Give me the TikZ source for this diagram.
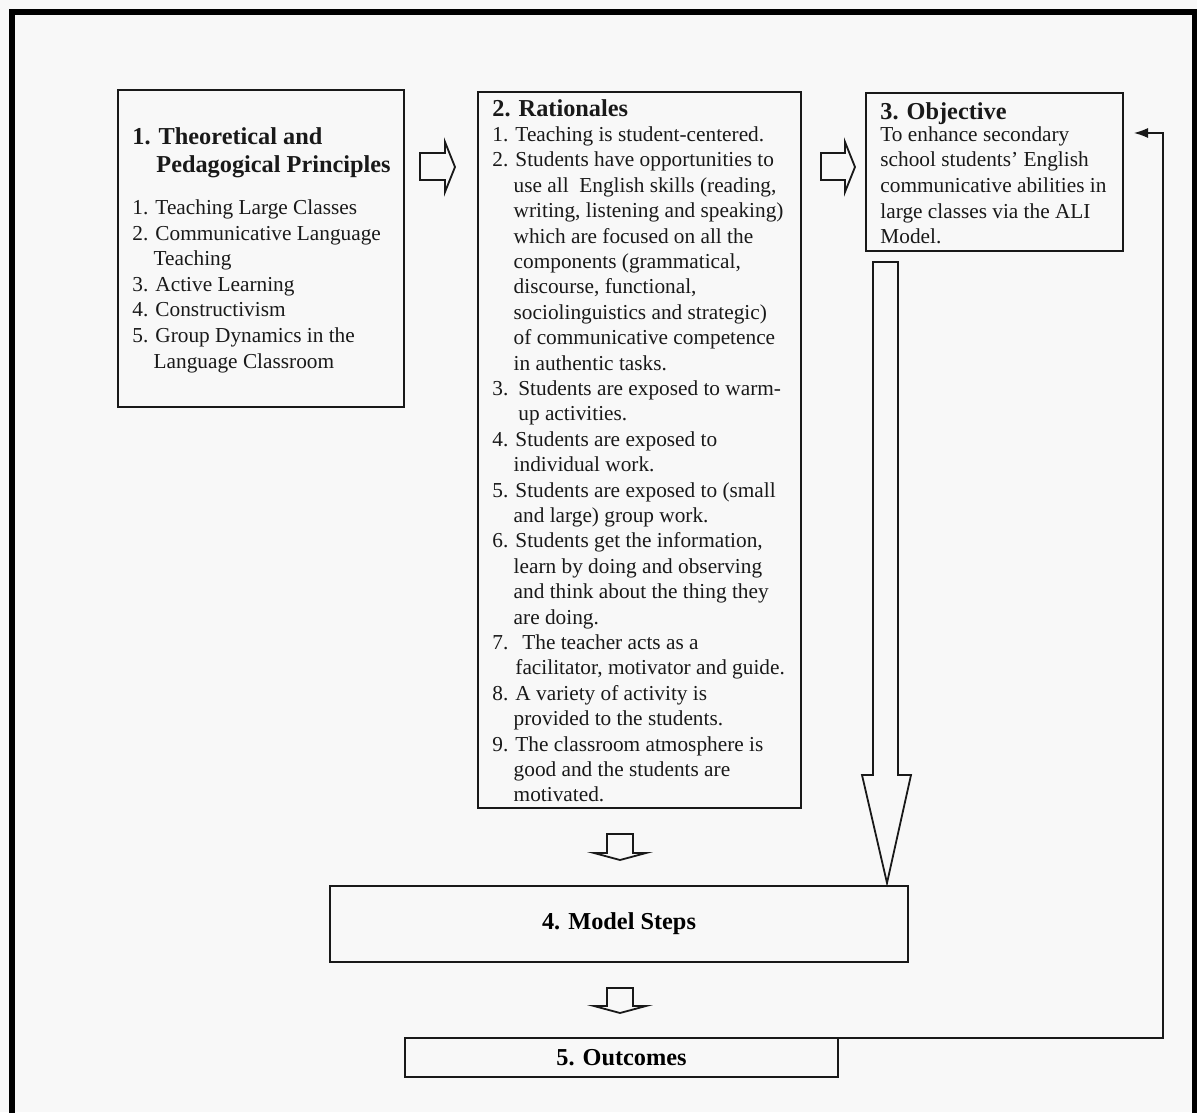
\documentclass[tikz,border=0pt]{standalone}
\usepackage{fontspec}
\setmainfont{Liberation Serif}
\usetikzlibrary{arrows.meta}
\definecolor{paper}{RGB}{248,248,248}
\definecolor{ink}{RGB}{25,25,25}
\newcommand\headfont{\fontsize{12.15pt}{14pt}\selectfont\bfseries}
\begin{document}
\begin{tikzpicture}[x=0.5pt,y=-0.5pt,
  box/.style={draw=ink, line width=0.75pt, inner sep=0pt, outer sep=0pt, anchor=north west},
  head/.style={anchor=base west, inner sep=0pt, font=\headfont, text=ink},
  lines/.style={anchor=north west, inner sep=0pt, align=left, text=ink},
  blockarrow/.style={draw=ink, line width=0.9pt, line join=miter},
  fb/.style={draw=ink, line width=0.55pt, -{Latex[length=7pt,width=5pt]}},
  frame/.style={draw=black, line width=2.6pt}]
\fill[paper] (0,0) rectangle (1197,1112);
\useasboundingbox (0,0) rectangle (1197,1112);
\draw[frame] (12,1125) -- (12,12) -- (1195,12) -- (1195,1125);

% boxes
\node[box, minimum width=143pt, minimum height=158.5pt] (b1) at (118,90) {};
\node[box, minimum width=161.5pt, minimum height=358pt] (b2) at (478,92) {};
\node[box, minimum width=128.5pt, minimum height=79pt] (b3) at (866,93) {};
\node[box, minimum width=289pt, minimum height=38pt, font=\headfont] (model) at (330,886) {4. Model Steps};
\node[box, minimum width=216.5pt, minimum height=19.5pt, font=\headfont] (out) at (405,1038) {5. Outcomes};

% box 1 text
\node[head] (t1a) at (132,145) {1. Theoretical and};
\node[head] (t1b) at (156,173) {Pedagogical Principles};
\node[lines, font=\fontsize{10.65pt}{12.8pt}\selectfont, yshift=8.96pt] (l1) at (132,214) {\strut 1. Teaching Large Classes\\
2. Communicative Language\\
\hspace*{1em}Teaching\\
3. Active Learning\\
4. Constructivism\\
5. Group Dynamics in the\\
\hspace*{1em}Language Classroom};

% box 2 text
\node[head] (t2) at (492,117) {2. Rationales};
\node[lines, font=\fontsize{10.65pt}{12.7pt}\selectfont, yshift=8.89pt] (l2) at (492,141) {\strut 1. Teaching is student-centered.\\
2. Students have opportunities to\\
\hspace*{1em}use all\ \ English skills (reading,\\
\hspace*{1em}writing, listening and speaking)\\
\hspace*{1em}which are focused on all the\\
\hspace*{1em}components (grammatical,\\
\hspace*{1em}discourse, functional,\\
\hspace*{1em}sociolinguistics and strategic)\\
\hspace*{1em}of communicative competence\\
\hspace*{1em}in authentic tasks.\\
3.\hspace{5pt}Students are exposed to warm-\\
\hspace*{13pt}up activities.\\
4. Students are exposed to\\
\hspace*{1em}individual work.\\
5. Students are exposed to (small\\
\hspace*{1em}and large) group work.\\
6. Students get the information,\\
\hspace*{1em}learn by doing and observing\\
\hspace*{1em}and think about the thing they\\
\hspace*{1em}are doing.\\
7.\hspace{7pt}The teacher acts as a\\
\hspace*{11.5pt}facilitator, motivator and guide.\\
8. A variety of activity is\\
\hspace*{1em}provided to the students.\\
9. The classroom atmosphere is\\
\hspace*{1em}good and the students are\\
\hspace*{1em}motivated.};

% box 3 text
\node[head] (t3) at (880,120) {3. Objective};
\node[lines, font=\fontsize{10.65pt}{12.8pt}\selectfont, yshift=8.96pt] (l3) at (880,141) {\strut To enhance secondary\\
school students’ English\\
communicative abilities in\\
large classes via the ALI\\
Model.};

% block arrows
\draw[blockarrow] (420,153) -- (445,153) -- (445,142) -- (455,167) -- (445,192) -- (445,180) -- (420,180) -- cycle;
\draw[blockarrow] (821,153) -- (845,153) -- (845,142) -- (855,167) -- (845,192) -- (845,180) -- (821,180) -- cycle;
\draw[blockarrow] (607,834) -- (633,834) -- (633,853) -- (646,853) -- (620,860) -- (594,853) -- (607,853) -- cycle;
\draw[blockarrow] (607,988) -- (633,988) -- (633,1006) -- (646,1006) -- (620,1013) -- (594,1006) -- (607,1006) -- cycle;
\draw[blockarrow] (873,262) -- (898,262) -- (898,775) -- (911,775) -- (887,883) -- (862,775) -- (873,775) -- cycle;

% feedback connector
\coordinate (fbc) at (1163,1038);
\coordinate (objin) at (1134,133);
\draw[fb] (out.north east) -- (fbc) |- (objin);
\end{tikzpicture}
\end{document}
